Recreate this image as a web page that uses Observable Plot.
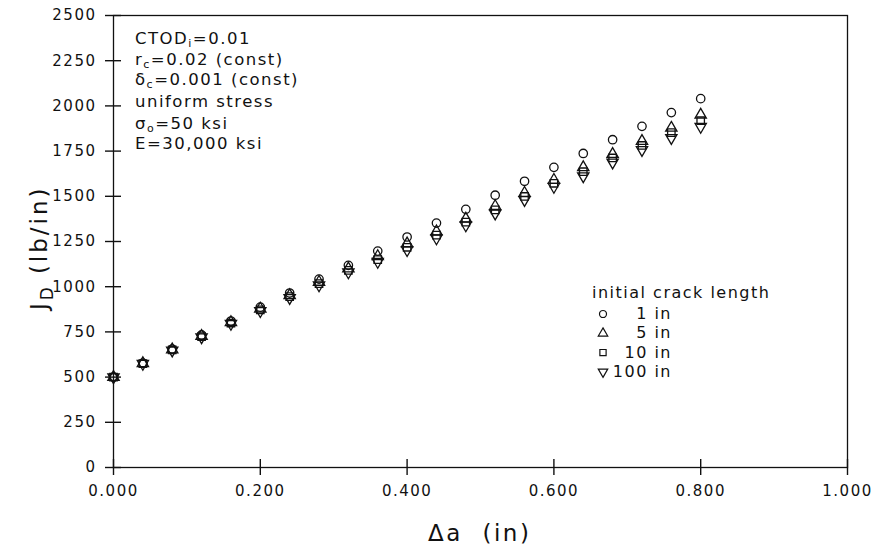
<!DOCTYPE html>
<html><head><meta charset="utf-8">
<script src="https://cdn.jsdelivr.net/npm/d3@7"></script>
<script src="https://cdn.jsdelivr.net/npm/@observablehq/plot@0.6"></script>
<style>
body{margin:0;background:#fff;}
#chart{width:875px;height:556px;}
#chart svg text{letter-spacing:1.5px;}
</style></head><body><div id="chart"></div>
<script>
// ---- data ----
const deltaA = [0.00,0.04,0.08,0.12,0.16,0.20,0.24,0.28,0.32,0.36,0.40,0.44,0.48,0.52,0.56,0.60,0.64,0.68,0.72,0.76,0.80];
const jd1in   = [500,577,655,733,810,887,965,1042,1118,1197,1275,1352,1428,1506,1583,1660,1737,1813,1887,1963,2040];
const jd5in   = [500,576,652,727,803,878,952,1026,1100,1168,1238,1305,1375,1445,1518,1590,1660,1733,1805,1878,1950];
const jd10in  = [500,575,650,724,799,872,945,1017,1090,1150,1218,1285,1357,1425,1499,1572,1636,1712,1781,1852,1918];
const jd100in = [500,574,648,721,795,866,938,1008,1080,1138,1203,1268,1340,1406,1480,1553,1612,1688,1757,1823,1885];
const seriesNames = ["1 in","5 in","10 in","100 in"];
const seriesValues = [jd1in, jd5in, jd10in, jd100in];
const xTicks = [0,0.2,0.4,0.6,0.8,1.0];
const yTicks = [0,250,500,750,1000,1250,1500,1750,2000,2250,2500];
const notes = [
  ["CTOD","i","=0.01"],
  ["r","c","=0.02 (const)"],
  ["δ","c","=0.001 (const)"],
  ["uniform stress"],
  ["σ","o","=50 ksi"],
  ["E=30,000 ksi"]
];
const legendTitle = "initial crack length";

// ---- build table ----
const rows = [];
seriesNames.forEach((s,i)=>deltaA.forEach((x,j)=>rows.push({series:s, x, y:seriesValues[i][j]})));

const sqrt3 = Math.sqrt(3);
const triangleDown = {draw(context, size){
  const y = -Math.sqrt(size/(sqrt3*3));
  context.moveTo(0, -y*2);
  context.lineTo(-sqrt3*y, y);
  context.lineTo(sqrt3*y, y);
  context.closePath();
}};
const symbols = [d3.symbolCircle, d3.symbolTriangle, d3.symbolSquare, triangleDown];
const ink = "#111";
const R = 4.2;

const plot = Plot.plot({
  width: 875, height: 556,
  marginLeft: 113, marginRight: 28, marginTop: 15, marginBottom: 89,
  x: {domain: [0, 1]},
  y: {domain: [0, 2500]},
  symbol: {domain: seriesNames, range: symbols},
  style: {fontFamily: "DejaVu Sans", fontSize: "15px", color: ink, background: "#fff"},
  marks: [
    Plot.frame({stroke: ink, strokeWidth: 1.3}),
    Plot.axisX({ticks: xTicks, tickFormat: d3.format(".3f"), tickSize: 16, dy: -8, tickPadding: 10, label: null, strokeWidth: 1.4}),
    Plot.axisY({ticks: yTicks, tickFormat: d3.format("d"), tickSize: 16, dx: 8, tickPadding: 9, label: null, strokeWidth: 1.4}),
    Plot.dot(rows, {x: "x", y: "y", symbol: "series", r: R, stroke: ink, strokeWidth: 1.3, fill: "none"})
  ]
});
document.getElementById("chart").appendChild(plot);

const svg = d3.select(plot);
const ff = "DejaVu Sans";

// annotation block
const noteBase = [44, 65, 85, 107, 129, 149];
const ng = svg.append("g").attr("font-family", ff).attr("font-size", 16.5).attr("fill", ink)
  .attr("text-anchor","start").style("letter-spacing","1.7px");
notes.forEach((n,i)=>{
  const t = ng.append("text").attr("x", 135).attr("y", noteBase[i]);
  if (n.length === 1) { t.text(n[0]); return; }
  t.append("tspan").text(n[0]);
  t.append("tspan").attr("dy", 3).attr("font-size", 11).text(n[1]);
  t.append("tspan").attr("dy", -3).text(n[2]);
});

// legend
const lg = svg.append("g").attr("font-family", ff).attr("font-size", 16).attr("fill", ink)
  .attr("text-anchor","start").style("letter-spacing","1.5px");
lg.append("text").attr("x", 592).attr("y", 298).text(legendTitle);
seriesNames.forEach((s,i)=>{
  const yc = 314 + i*19.3;
  lg.append("path").attr("transform", `translate(603,${yc})`)
    .attr("d", d3.symbol().type(symbols[i]).size(Math.PI*R*R*0.7)())
    .attr("fill","none").attr("stroke", ink).attr("stroke-width", 1.2);
  lg.append("text").attr("x", 672).attr("y", yc+5).attr("text-anchor","end").text(s);
});

// axis titles
const yt = svg.append("text").attr("transform","translate(47,310) rotate(-90)").attr("text-anchor","start")
  .attr("font-family", ff).attr("font-size", 23).attr("fill", ink).style("letter-spacing","3px");
yt.append("tspan").text("J");
yt.append("tspan").attr("dy", 6).attr("font-size", 17).text("D");
yt.append("tspan").attr("dy", -6).attr("dx", 10).text("(lb/in)");

svg.append("text").attr("x", 428).attr("y", 541).attr("text-anchor","start")
  .attr("font-family", ff).attr("font-size", 23).attr("fill", ink).style("letter-spacing","2.5px")
  .style("white-space","pre").text("Δa  (in)");
</script>
</body></html>
